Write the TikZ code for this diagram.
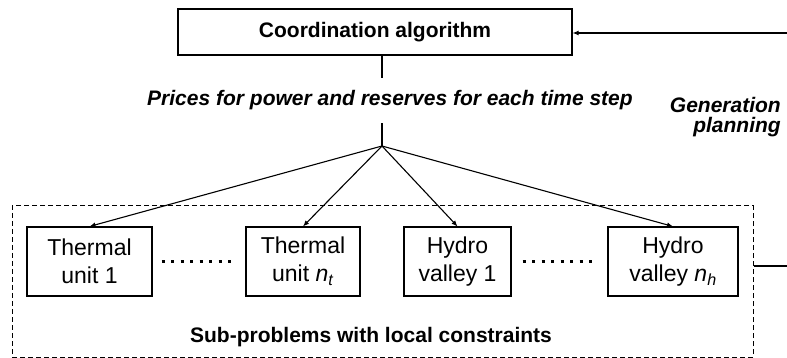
\documentclass[tikz,border=0pt]{standalone}
\usepackage{fontspec}
\setmainfont{Liberation Sans}
\usepackage{tikz}
\usetikzlibrary{arrows.meta,positioning,calc}

\begin{document}
\begin{tikzpicture}[x=1pt,y=-1pt,
      unit/.style={draw,line width=1.1pt,minimum height=69pt,inner sep=0pt,
                   align=center,font=\fontsize{23}{28}\selectfont},
      master/.style={draw,line width=1.1pt,minimum width=394pt,minimum height=46pt,
                   inner sep=0pt,font=\fontsize{21}{24}\selectfont\bfseries},
      flow/.style={-{Latex[length=6pt,width=5pt]},line width=1.1pt},
      dots/.style={line width=3pt,dash pattern=on 3pt off 6.5pt},
      tag/.style={font=\fontsize{21}{20}\selectfont\bfseries\itshape,inner sep=0pt}]
    \useasboundingbox (0,0) rectangle (787,358);
    \node[master] (coord) at (375,32) {Coordination algorithm};
    \node[draw,line width=1pt,dash pattern=on 5pt off 3pt,minimum width=741pt,
      minimum height=151pt,inner sep=0pt] (sub) at (382.5,281.5) {};
    \node[unit,minimum width=125pt] (tu1) at (89.5,261.5) {Thermal\\unit 1};
    \node[unit,minimum width=114pt] (tun) at (303,261.5)
      {Thermal\\unit \textit{n}\textsubscript{\textit{t}}};
    \node[unit,minimum width=107pt] (hv1) at (457.5,261.5) {Hydro\\valley 1};
    \node[unit,minimum width=130pt] (hvn) at (673,261.5)
      {Hydro\\valley \textit{n}\textsubscript{\textit{h}}};
    \node[tag] (prices) at (390,100) {Prices for power and reserves for each time step};
    \node[tag,align=right,anchor=east] (plan) at (781,117) {Generation\\planning};
    \node[inner sep=0pt,font=\fontsize{21}{24}\selectfont\bfseries] (sublabel)
      at (371,337) {Sub-problems with local constraints};
    \coordinate (hub) at (382,146);
    \coordinate (loopbot) at (787,266);
    \coordinate (looptop) at (787,33);
    \draw[line width=1.1pt] (hub |- coord.south) -- ++(0,22);
    \draw[line width=1.1pt] (hub) -- ++(0,-23);
    \foreach \target in {tu1,tun,hv1,hvn}
      \draw[flow] (hub) -- (\target.north);
    \draw[dots] ([xshift=9pt]tu1.east) -- ([xshift=-11pt]tun.west);
    \draw[dots] ([xshift=11pt]hv1.east) -- ([xshift=-11pt]hvn.west);
    \draw[line width=1.1pt] (sub.east |- loopbot) -- (loopbot);
    \draw[flow] (looptop) -- (coord.east |- looptop);
  \end{tikzpicture}
\end{document}
